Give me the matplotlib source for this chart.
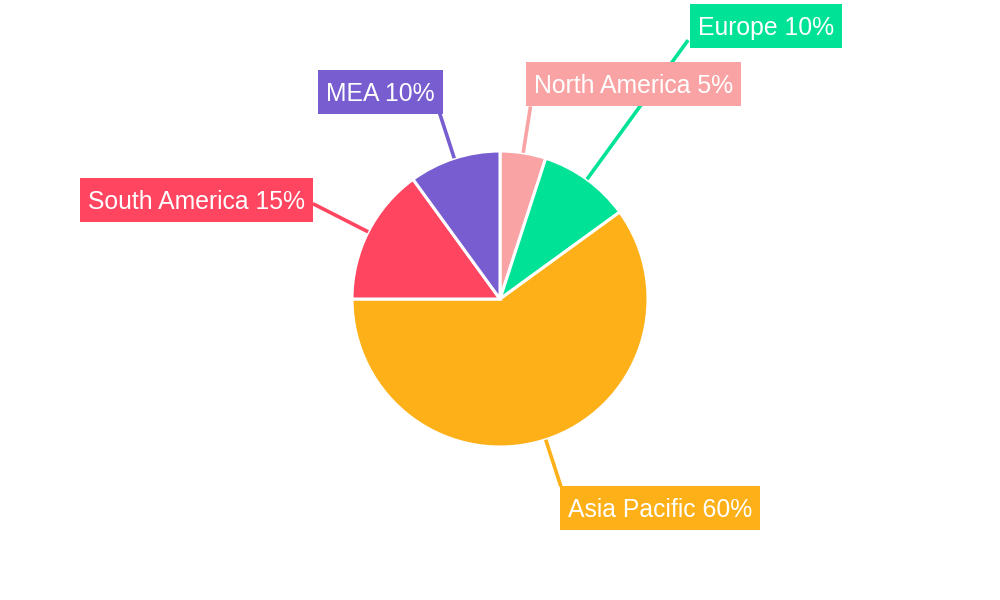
import numpy as np
import matplotlib
matplotlib.use("Agg")
import matplotlib.pyplot as plt
from matplotlib.patches import Rectangle

# --- dati ---
regions = ["North America", "Europe", "Asia Pacific", "South America", "MEA"]
shares = [5, 10, 60, 15, 10]
colors = ["#F9A3A4", "#00E396", "#FEB019", "#FF4560", "#775DD0"]

# --- layout (pixel, origine in alto a sinistra) ---
W, H = 1000, 600
cx, cy, R = 500, 299, 148
leader_end = [195, 320, 197, 210, 195]          # raggio fine linea
box_left = [526, 690, 560, 80, 318]             # bordo sinistro etichetta
box_mid = [84, 26, 508, 200, 92]                # centro verticale etichetta
box_h, pad_l, pad_r = 44, 8, 8

plt.rcParams['font.family'] = ['Liberation Sans', 'DejaVu Sans']

fig = plt.figure(figsize=(W / 100, H / 100), dpi=100)
ax = fig.add_axes([0, 0, 1, 1])
ax.axis('off')

wedges, _ = ax.pie(shares, colors=colors, startangle=90, counterclock=False,
                   center=(cx, H - cy), radius=R,
                   wedgeprops=dict(edgecolor='white', linewidth=2.2))
ax.set_xlim(0, W)
ax.set_ylim(0, H)
ax.set_aspect('equal')

cum = np.cumsum([0] + shares[:-1])
total = sum(shares)
texts = []
for i, (name, val) in enumerate(zip(regions, shares)):
    mid = np.deg2rad(90 - (cum[i] + val / 2) / total * 360)
    x0, y0 = cx + R * np.cos(mid), H - cy + R * np.sin(mid)
    x1, y1 = cx + leader_end[i] * np.cos(mid), H - cy + leader_end[i] * np.sin(mid)
    ax.plot([x0, x1], [y0, y1], color=colors[i], lw=2.6, solid_capstyle='butt', zorder=1)
    t = ax.text(box_left[i] + pad_l, H - box_mid[i] - 2, f"{name} {val}%", color='white',
                fontsize=17.8, ha='left', va='center', zorder=3)
    texts.append(t)

# box colorati dietro le etichette, larghi quanto il testo
fig.canvas.draw()
r = fig.canvas.get_renderer()
for i, t in enumerate(texts):
    bb = t.get_window_extent(r)
    w = bb.width + pad_l + pad_r
    ax.add_patch(Rectangle((box_left[i], H - box_mid[i] - box_h / 2), w, box_h,
                           fc=colors[i], ec='none', zorder=2))

fig.savefig("out.png", dpi=100)
